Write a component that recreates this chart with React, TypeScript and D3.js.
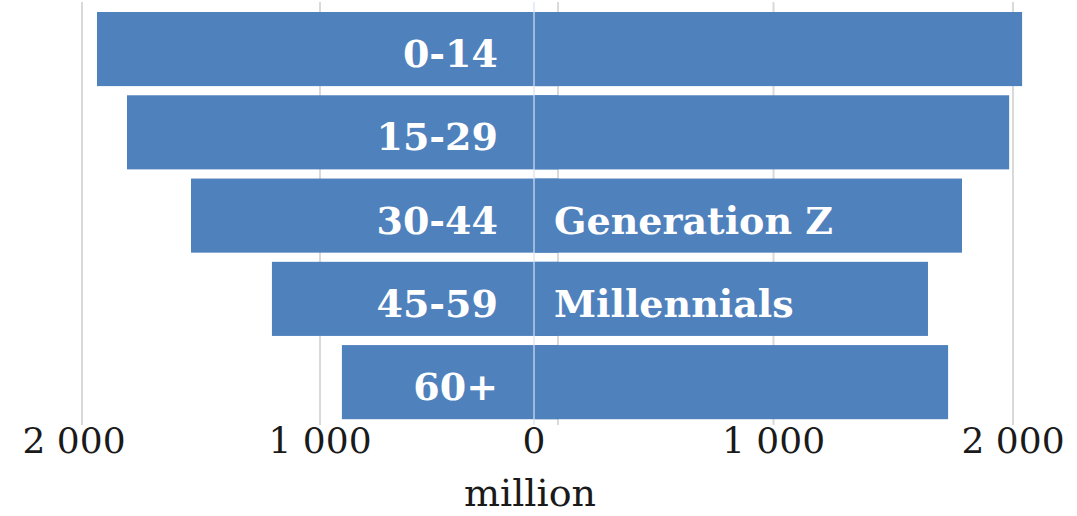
import React from "react";
import * as d3 from "d3";

const ageGroups = ["0-14", "15-29", "30-44", "45-59", "60+"];
const leftValues = [1937, 1811, 1542, 1202, 908];
const rightValues = [2038, 1984, 1787, 1645, 1729];
const generationLabels = ["", "", "Generation Z", "Millennials", ""];
const leftTicks = [1000, 2000];
const rightTicks = [0, 1000, 2000];
const axisTitle = "million";

const fmt = (v: number) => (v >= 1000 ? `${Math.floor(v / 1000)} ${String(v % 1000).padStart(3, "0")}` : String(v));

export default function App() {
  const W = 1077;
  const H = 516;
  const xL = d3.scaleLinear().domain([0, 2000]).range([558, 82]);
  const xR = d3.scaleLinear().domain([0, 2000]).range([534, 1013]);
  const y = d3.scaleBand<string>().domain(ageGroups).range([12, 419.2]).paddingInner(0.11).paddingOuter(0);
  const bw = y.bandwidth();
  const gridTop = 2;
  const gridBottom = 425;
  const blue = "#4f81bd";
  const serif = "'DejaVu Serif', serif";

  return (
    <svg width={W} height={H} style={{ position: "absolute", left: 0, top: 0, background: "#fff" }}>
      {[0, ...leftTicks].map((t) => (
        <line key={"gl" + t} x1={xL(t)} x2={xL(t)} y1={gridTop} y2={gridBottom} stroke="#d9d9d9" strokeWidth={2} />
      ))}
      {rightTicks.filter((t) => t > 0).map((t) => (
        <line key={"gr" + t} x1={xR(t)} x2={xR(t)} y1={gridTop} y2={gridBottom} stroke="#d9d9d9" strokeWidth={2} />
      ))}
      {ageGroups.map((g, i) => (
        <rect key={"l" + g} x={xL(leftValues[i])} y={y(g)} width={xL(0) - xL(leftValues[i])} height={bw} fill={blue} />
      ))}
      {ageGroups.map((g, i) => (
        <rect key={"r" + g} x={xR(0)} y={y(g)} width={xR(rightValues[i]) - xR(0)} height={bw} fill={blue} />
      ))}
      <line x1={xR(0)} x2={xR(0)} y1={gridTop} y2={gridBottom} stroke="rgba(215,225,240,0.6)" strokeWidth={2} />
      {ageGroups.map((g) => (
        <text key={"t" + g} x={xR(0) - 36} y={(y(g) as number) + bw / 2 + 18} textAnchor="end" fill="#fff"
          fontFamily={serif} fontWeight="bold" fontSize={38}>{g}</text>
      ))}
      {ageGroups.map((g, i) =>
        generationLabels[i] ? (
          <text key={"g" + g} x={xR(0) + 20} y={(y(g) as number) + bw / 2 + 18} textAnchor="start" fill="#fff"
            fontFamily={serif} fontWeight="bold" fontSize={38}>{generationLabels[i]}</text>
        ) : null
      )}
      {leftTicks.map((t) => (
        <text key={"lt" + t} x={xL(t)} dx={t === 2000 ? -8 : 0} y={453} textAnchor="middle" fill="#1a1a1a" fontFamily={serif} fontSize={36}>{fmt(t)}</text>
      ))}
      {rightTicks.map((t) => (
        <text key={"rt" + t} x={xR(t)} y={453} textAnchor="middle" fill="#1a1a1a" fontFamily={serif} fontSize={36}>{fmt(t)}</text>
      ))}
      <text x={530} y={506} textAnchor="middle" fill="#1a1a1a" fontFamily={serif} fontSize={38}>{axisTitle}</text>
    </svg>
  );
}
